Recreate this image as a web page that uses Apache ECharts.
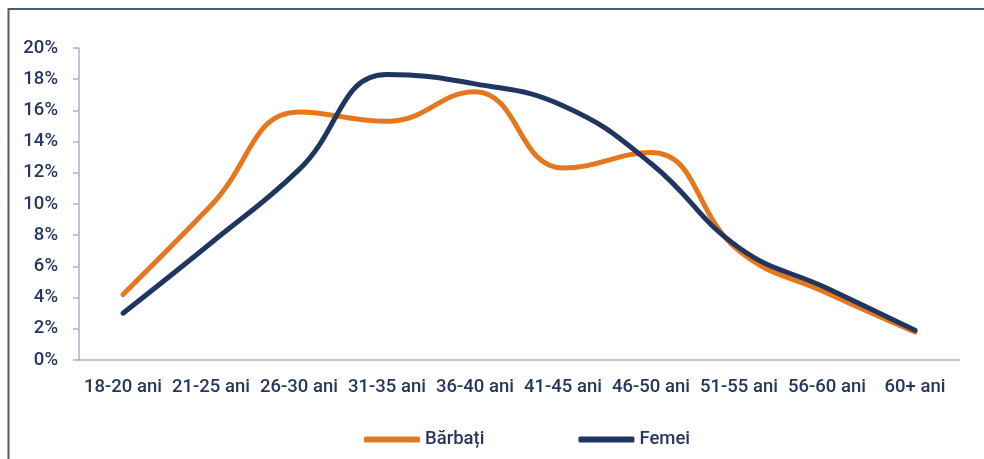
<!DOCTYPE html>
<html>
<head>
<meta charset="utf-8">
<script src="https://cdn.jsdelivr.net/npm/echarts@6/dist/echarts.min.js"></script>
<style>
  html, body { margin: 0; padding: 0; background: #fff; }
  #chart { width: 984px; height: 459px; }
</style>
</head>
<body>
<div id="chart"></div>
<script>
// categorii de vârstă
const categories = ['18-20 ani', '21-25 ani', '26-30 ani', '31-35 ani', '36-40 ani',
  '41-45 ani', '46-50 ani', '51-55 ani', '56-60 ani', '60+ ani']

// valori în procente
const barbati = [4.2, 9.9, 15.9, 15.3, 17.2, 12.3, 13.3, 7.0, 4.3, 1.8]
const femei = [3.0, 7.5, 12.2, 18.3, 17.7, 16.3, 12.6, 7.2, 4.6, 1.9]

const textColor = '#25365f'
const axisColor = '#aab2c6'

const chart = echarts.init(document.getElementById('chart'))

const option = {
  animation: false,
  textStyle: { fontFamily: 'Roboto', color: textColor },
  graphic: [{
    type: 'rect',
    shape: { x: 8.5, y: 9, width: 1000, height: 500 },
    style: { fill: 'none', stroke: '#4d5a75', lineWidth: 2 },
    silent: true
  }],
  grid: { left: 79, right: 25, top: 48, bottom: 99 },
  legend: {
    left: 359,
    top: 425,
    itemWidth: 56,
    itemHeight: 6,
    itemGap: 94,
    icon: 'roundRect',
    textStyle: { fontSize: 18.5, fontWeight: 500, color: textColor, fontFamily: 'Roboto' },
    data: ['Bărbați', 'Femei']
  },
  xAxis: {
    type: 'category',
    data: categories,
    boundaryGap: true,
    axisLine: { lineStyle: { color: axisColor, width: 1.5 } },
    axisTick: { length: 6, lineStyle: { color: axisColor, width: 1.5 } },
    axisLabel: { fontSize: 18.5, fontWeight: 500, color: textColor, margin: 18, interval: 0 }
  },
  yAxis: {
    type: 'value',
    min: 0,
    max: 20,
    interval: 2,
    splitLine: { show: false },
    axisLine: { show: true, lineStyle: { color: axisColor, width: 1.5 } },
    axisTick: { show: true, length: 6, lineStyle: { color: axisColor, width: 1.5 } },
    axisLabel: { formatter: '{value}%', fontSize: 18.5, fontWeight: 500, color: textColor, margin: 21 }
  },
  series: [
    {
      name: 'Bărbați',
      type: 'line',
      data: barbati,
      smooth: 0.45,
      showSymbol: false,
      symbol: 'none',
      lineStyle: { color: '#e5781e', width: 5, cap: 'round' },
      itemStyle: { color: '#e5781e' }
    },
    {
      name: 'Femei',
      type: 'line',
      data: femei,
      smooth: 0.45,
      showSymbol: false,
      symbol: 'none',
      lineStyle: { color: '#203560', width: 5, cap: 'round' },
      itemStyle: { color: '#203560' }
    }
  ]
}

chart.setOption(option)
</script>
</body>
</html>
